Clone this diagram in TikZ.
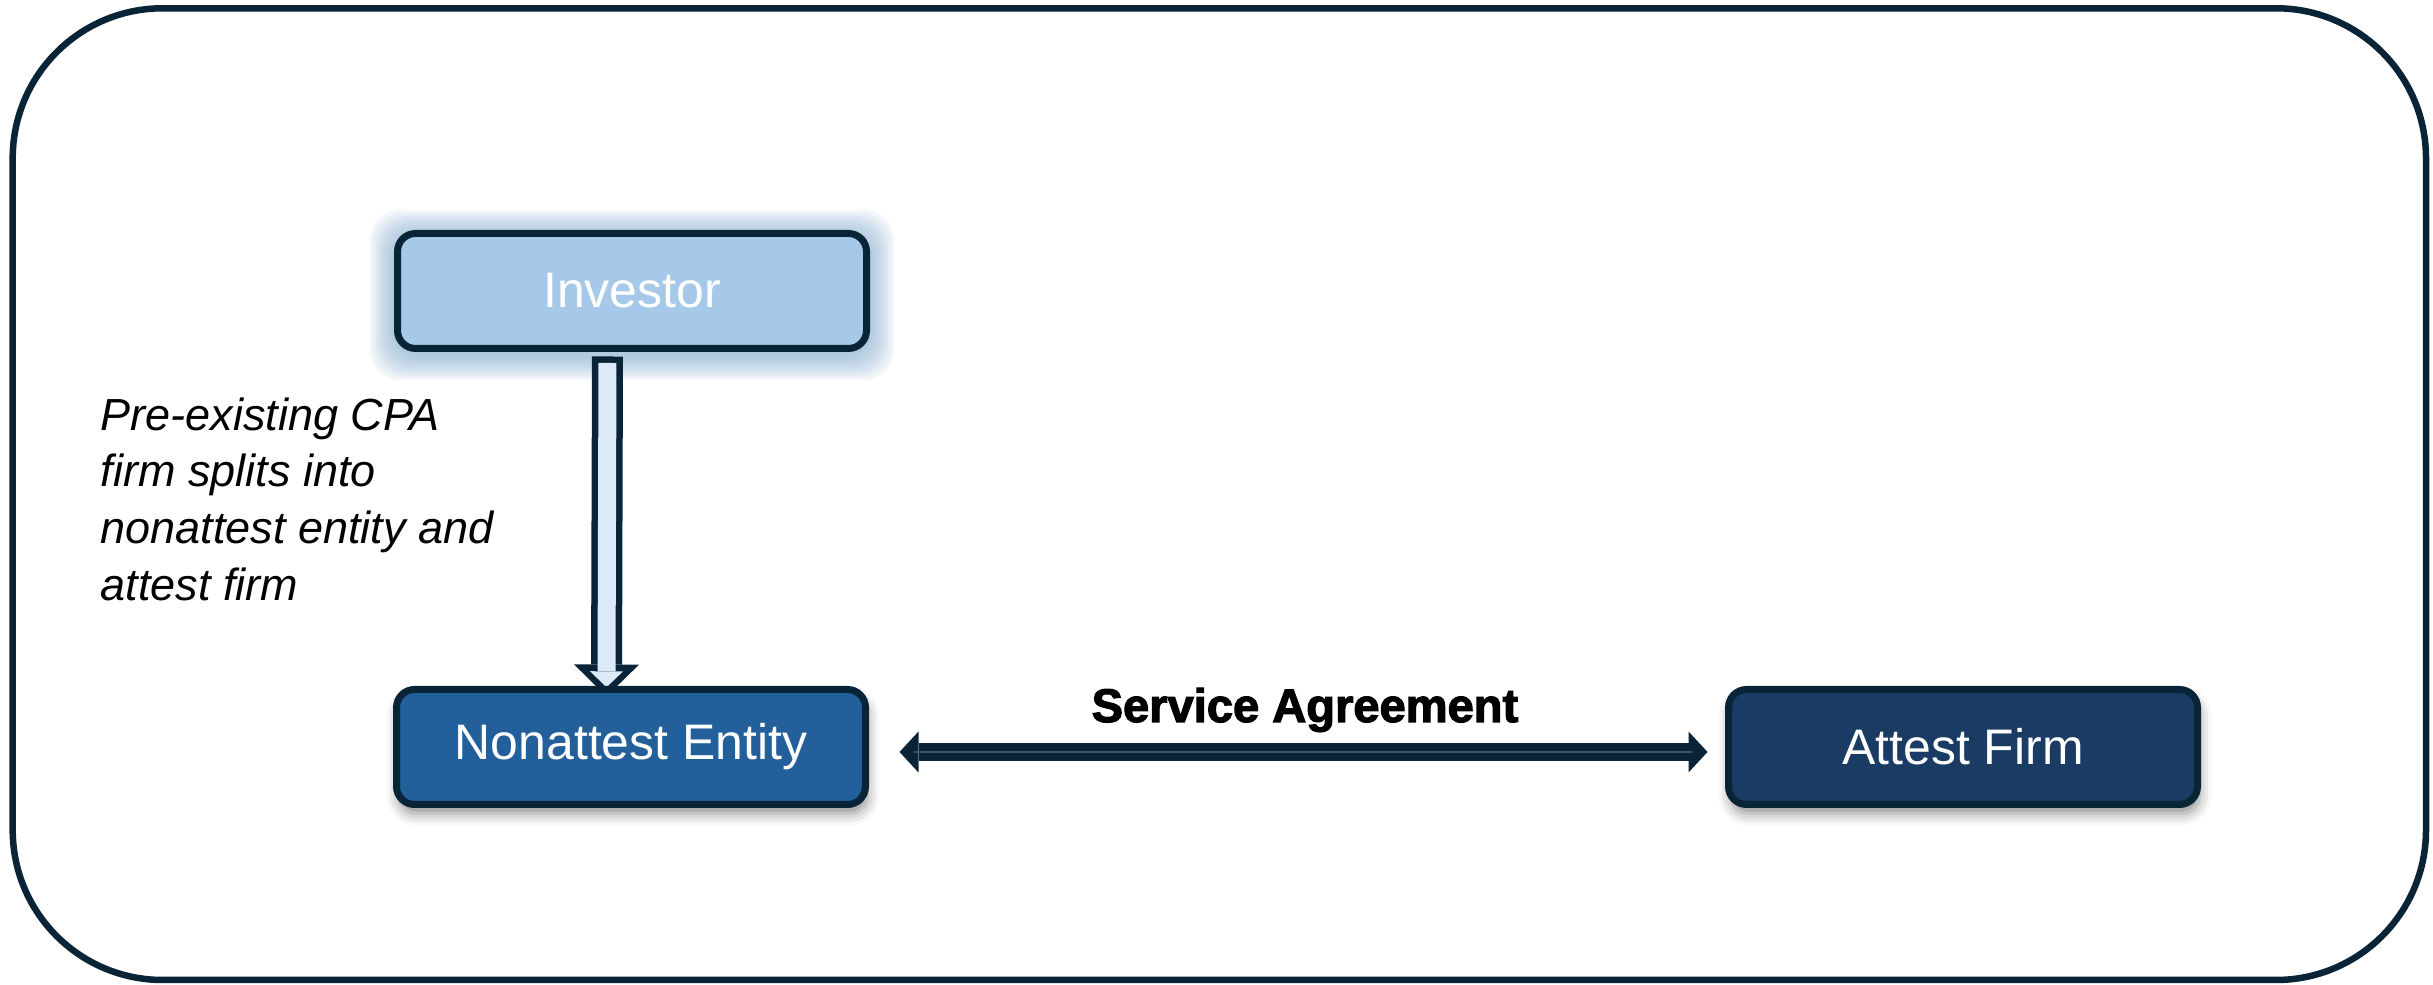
\documentclass[tikz,border=0pt]{standalone}
\usepackage{fontspec}
\setmainfont{Liberation Sans}
\newfontfamily\heavyfont[FakeBold=2.5]{Liberation Sans}
\usetikzlibrary{arrows.meta, shadows.blur, backgrounds}

\definecolor{navy}{HTML}{0A2437}
\definecolor{investorblue}{HTML}{A6C9EA}
\definecolor{entityblue}{HTML}{225F9B}
\definecolor{firmblue}{HTML}{1A3B63}
\definecolor{arrowfill}{HTML}{DCE9F6}
\definecolor{stripe}{HTML}{3E5869}
\definecolor{glow}{HTML}{5E91BE}

\tikzset{
	entity/.style={draw=navy, line width=0.07cm, rounded corners=0.18cm,
		minimum width=4.69cm, minimum height=1.15cm, inner sep=0pt,
		text=white, font=\fontsize{14.2}{17}\selectfont},
	lowbox/.style={entity, blur shadow={shadow xshift=0.02cm, shadow yshift=-0.09cm,
		shadow blur radius=0.12cm, shadow opacity=45}},
	halo/.style={glow, opacity=0.08, rounded corners=0.3cm},
	blockarrow/.style={line width=0.31cm, navy},
	agreement/.style={line width=0.18cm, navy},
}

\begin{document}
\begin{tikzpicture}
	\useasboundingbox (0,0) rectangle (24.33,9.85);
	% Рамка
	\draw[navy, line width=0.065cm, rounded corners=1.5cm] (0.127,0.05) rectangle (24.26,9.767);

	% Блоки
	\node[entity, fill=investorblue] (investor) at (6.32,6.94) {Investor};
	\node[lowbox, fill=entityblue] (nonattest) at (6.31,2.38) {Nonattest Entity};
	\node[lowbox, fill=firmblue] (attest) at (19.63,2.38) {Attest Firm};

	% Пояснение
	\node[anchor=north west, align=left, inner sep=0pt,
		font=\itshape\fontsize{12.8}{16.1}\selectfont] (note) at (1.00,5.88)
		{Pre-existing CPA\\firm splits into\\nonattest entity and\\attest firm};

	\begin{scope}[on background layer]
		% Свечение
		\foreach \g in {1,...,8}
			\fill[halo] ([shift={({-\g*0.03},{-\g*0.03-0.04})}]investor.south west)
				rectangle ([shift={({\g*0.03},{\g*0.03-0.04})}]investor.north east);

		% Стрелка вниз
		\draw[blockarrow, -{Triangle[width=0.65cm, length=0.32cm, line width=0pt]},
			shorten <=0.045cm, shorten >=-0.105cm]
			([xshift=-0.245cm]investor.south) -- ([xshift=-0.245cm]nonattest.north);
		\draw[line width=0.18cm, arrowfill, -{Triangle[width=0.33cm, length=0.16cm, line width=0pt]},
			shorten <=0.11cm, shorten >=-0.013cm]
			([xshift=-0.245cm]investor.south) -- ([xshift=-0.245cm]nonattest.north);
	\end{scope}

	% Соглашение
	\draw[agreement, {Triangle[width=0.41cm, length=0.19cm, line width=0pt]}-{Triangle[width=0.41cm, length=0.19cm, line width=0pt]},
		shorten <=0.305cm, shorten >=0.175cm]
		([yshift=-0.05cm]nonattest.east) -- ([yshift=-0.05cm]attest.west)
		node[midway, anchor=base, xshift=0.08cm, yshift=0.30cm, text=black,
			font=\heavyfont\bfseries\fontsize{13.4}{16}\selectfont] (service) {Service Agreement};
	\draw[line width=0.025cm, stripe, shorten <=0.45cm, shorten >=0.33cm]
		([yshift=-0.05cm]nonattest.east) -- ([yshift=-0.05cm]attest.west);
\end{tikzpicture}
\end{document}
